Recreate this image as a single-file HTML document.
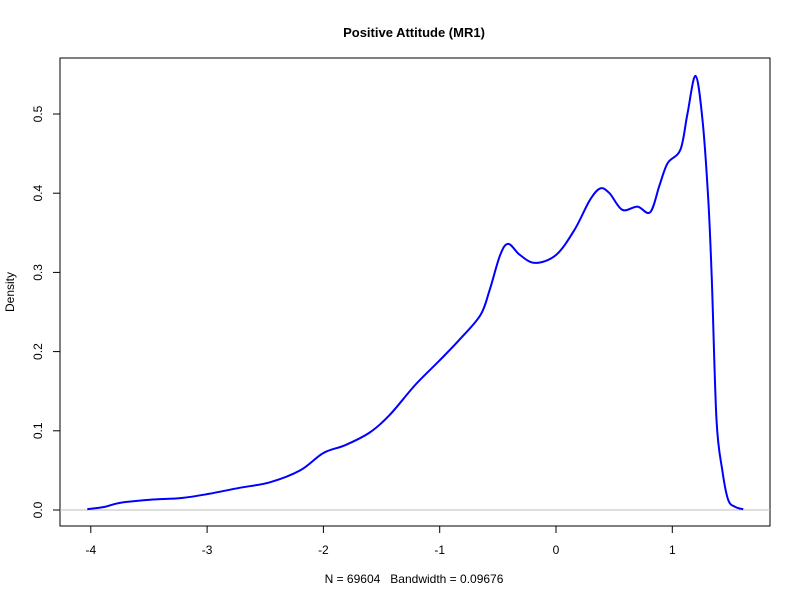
<!DOCTYPE html>
<html><head><meta charset="utf-8"><style>
body{margin:0;background:#fff;}
svg text{font-family:"Liberation Sans",Arial,sans-serif;font-size:12px;fill:#000;}
</style></head><body>
<svg id="chart" width="800" height="600">
<rect width="800" height="600" fill="#fff"/>
<text x="414" y="37" text-anchor="middle" style="font-weight:bold;font-size:13px">Positive Attitude (MR1)</text>
<rect x="60" y="58" width="710" height="468" fill="none" stroke="#000"/>
<text x="414" y="583" text-anchor="middle" style="white-space:pre">N = 69604   Bandwidth = 0.09676</text>
<text transform="translate(14,292) rotate(-90)" text-anchor="middle">Density</text>
<g id="axes"></g>
<g id="marks"></g>
</svg>
<script>
const xTicks=[-4,-3,-2,-1,0,1];
const yTicks=[0,0.1,0.2,0.3,0.4,0.5];
const yTickLabels=["0.0","0.1","0.2","0.3","0.4","0.5"];
const densX=[-4.03,-3.88,-3.75,-3.49,-3.23,-3.0,-2.72,-2.46,-2.2,-2.0,-1.81,-1.6,-1.43,-1.21,-1.0,-0.83,-0.65,-0.57,-0.48,-0.41,-0.31,-0.18,0,0.16,0.29,0.38,0.46,0.57,0.7,0.81,0.89,0.96,1.07,1.13,1.2,1.26,1.31,1.34,1.38,1.43,1.48,1.54,1.61];
const densY=[0.001,0.004,0.009,0.013,0.015,0.02,0.028,0.035,0.05,0.072,0.082,0.098,0.12,0.158,0.189,0.215,0.246,0.278,0.322,0.336,0.322,0.312,0.322,0.354,0.391,0.406,0.4,0.379,0.383,0.376,0.41,0.438,0.455,0.5,0.548,0.492,0.39,0.29,0.114,0.05,0.013,0.004,0.001];
const NS="http://www.w3.org/2000/svg";
const sx=v=>556+v*116.3;
const sy=v=>510-v*792;
const axes=document.getElementById('axes'),marks=document.getElementById('marks');
function mk(tag,attrs,parent){const e=document.createElementNS(NS,tag);for(const k in attrs)e.setAttribute(k,attrs[k]);parent.appendChild(e);return e;}
const xl=mk('line',{x1:sx(-4),x2:sx(1),y1:526,y2:526,stroke:'#000'},axes);


xTicks.forEach(t=>{
 const l=mk('line',{x1:sx(t),x2:sx(t),y1:526,y2:533,stroke:'#000'},axes);
 
 
 const tx=mk('text',{x:sx(t),y:554,'text-anchor':'middle'},axes);tx.textContent=t;
 
 
});
const yl=mk('line',{x1:60,x2:60,y1:sy(0),y2:sy(0.5),stroke:'#000'},axes);


yTicks.forEach((t,i)=>{
 const l=mk('line',{x1:53,x2:60,y1:sy(t),y2:sy(t),stroke:'#000'},axes);
 
 
 const tx=mk('text',{transform:`translate(42,${sy(t)}) rotate(-90)`,'text-anchor':'middle'},axes);tx.textContent=yTickLabels[i];
 
 
});
const zl=mk('line',{x1:60,x2:770,y1:sy(0),y2:sy(0),stroke:'#bebebe'},marks);


const pts=densX.map((x,i)=>[sx(x),sy(densY[i])]);
let d=`M${pts[0][0]},${pts[0][1]}`;
for(let i=0;i<pts.length-1;i++){
 const p0=pts[Math.max(0,i-1)],p1=pts[i],p2=pts[i+1],p3=pts[Math.min(pts.length-1,i+2)];
 const c1=[p1[0]+(p2[0]-p0[0])/6,p1[1]+(p2[1]-p0[1])/6];
 const c2=[p2[0]-(p3[0]-p1[0])/6,p2[1]-(p3[1]-p1[1])/6];
 d+=` C${c1[0]},${c1[1]} ${c2[0]},${c2[1]} ${p2[0]},${p2[1]}`;
}
const path=mk('path',{d:d,fill:'none',stroke:'#0000ff','stroke-width':2,'stroke-linejoin':'round'},marks);


</script>
</body></html>
